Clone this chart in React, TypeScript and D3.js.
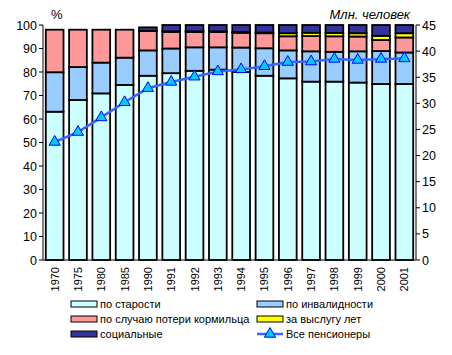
import React from "react";
import * as d3 from "d3";

const years = ["1970","1975","1980","1985","1990","1991","1992","1993","1994","1995","1996","1997","1998","1999","2000","2001"];
const oldAge =     [63.1, 68.1, 70.9, 74.5, 78.4, 79.5, 80.5, 81.0, 80.0, 78.4, 77.3, 75.9, 75.9, 75.5, 74.9, 74.9];
const disability = [16.8, 14.0, 13.1, 11.6, 10.8, 10.5, 10.0, 9.5, 10.4, 11.7, 11.9, 12.9, 12.7, 13.3, 14.0, 13.4];
const survivor =   [18.1, 15.9, 14.0, 11.9, 8.3, 7.0, 6.5, 6.5, 6.3, 6.4, 6.0, 6.5, 6.6, 6.3, 4.7, 6.4];
const service =    [0, 0, 0, 0, 0, 0.3, 0.3, 0.3, 0.3, 0.3, 1.3, 1.4, 1.4, 1.4, 1.8, 1.8];
const social =     [0, 0, 0, 0, 1.5, 2.7, 2.7, 2.7, 3.0, 3.2, 3.5, 3.3, 3.4, 3.5, 4.6, 3.5];
const allPensioners = [22.6, 24.5, 27.3, 30.2, 32.9, 34.1, 35.1, 36.1, 36.5, 37.1, 37.9, 38.0, 38.5, 38.3, 38.5, 38.6];

const seriesNames = ["по старости", "по инвалидности", "по случаю потери кормильца", "за выслугу лет", "социальные"];
const seriesColors = ["#CCFFFF", "#99CCFF", "#FF9999", "#FFFF00", "#333399"];
const lineName = "Все пенсионеры";
const leftTicks = [0, 10, 20, 30, 40, 50, 60, 70, 80, 90, 100];
const rightTicks = [0, 5, 10, 15, 20, 25, 30, 35, 40, 45];

const W = 452, H = 355;
const plot = { left: 43, right: 416, top: 25, bottom: 260 };
const font = "'Liberation Sans', Arial, sans-serif";

export default function App() {
  const x = d3.scaleBand().domain(years).range([plot.left, plot.right]).paddingInner(0.24).paddingOuter(0.12);
  const yL = d3.scaleLinear().domain([0, 100]).range([plot.bottom, plot.top]);
  const yR = d3.scaleLinear().domain([0, 45]).range([plot.bottom, plot.top]);
  const data = years.map((yr, i) => ({ yr, s0: oldAge[i], s1: disability[i], s2: survivor[i], s3: service[i], s4: social[i] }));
  const stack = d3.stack<any>().keys(["s0", "s1", "s2", "s3", "s4"])(data);
  const line = d3.line<number>().x((_, i) => (x(years[i]) as number) + x.bandwidth() / 2).y(d => yR(d));
  const tri = d3.symbol().type(d3.symbolTriangle).size(54);

  const legendItems = [
    { name: seriesNames[0], color: seriesColors[0], x: 71, y: 304 },
    { name: seriesNames[1], color: seriesColors[1], x: 257, y: 304 },
    { name: seriesNames[2], color: seriesColors[2], x: 71, y: 319 },
    { name: seriesNames[3], color: seriesColors[3], x: 257, y: 319 },
    { name: seriesNames[4], color: seriesColors[4], x: 71, y: 334 },
  ];

  return (
    <svg width={W} height={H} style={{ position: "absolute", left: 0, top: 0, background: "#fff" }} fontFamily={font}>
      {stack.map((layer, li) => (
        <g key={li}>
          {layer.map((d, i) => d[1] - d[0] > 0 ? (
            <rect key={i} x={x(years[i])} width={x.bandwidth()} y={yL(d[1])} height={yL(d[0]) - yL(d[1])}
              fill={seriesColors[li]} stroke="#000" strokeWidth={1.8} />
          ) : null)}
        </g>
      ))}
      {/* left axis */}
      <line x1={plot.left} x2={plot.left} y1={plot.top} y2={plot.bottom} stroke="#000" />
      {leftTicks.map(t => (
        <g key={t}>
          <line x1={plot.left - 4} x2={plot.left} y1={yL(t)} y2={yL(t)} stroke="#000" />
          <text x={plot.left - 6} y={yL(t)} dy="0.36em" textAnchor="end" fontSize={12.5}>{t}</text>
        </g>
      ))}
      {/* right axis */}
      <line x1={plot.right} x2={plot.right} y1={plot.top} y2={plot.bottom} stroke="#000" />
      {rightTicks.map(t => (
        <g key={t}>
          <line x1={plot.right} x2={plot.right + 4} y1={yR(t)} y2={yR(t)} stroke="#000" />
          <text x={plot.right + 6} y={yR(t)} dy="0.36em" textAnchor="start" fontSize={12.5}>{t}</text>
        </g>
      ))}
      {/* bottom axis */}
      <line x1={plot.left} x2={plot.right} y1={plot.bottom} y2={plot.bottom} stroke="#000" />
      {years.map(yr => {
        const cx = (x(yr) as number) + x.bandwidth() / 2;
        return (
          <text key={yr} transform={`translate(${cx + 4},${plot.bottom + 7}) rotate(-90)`} textAnchor="end" fontSize={11}>{yr}</text>
        );
      })}
      <text x={51} y={19} fontSize={13}>%</text>
      <text x={410} y={19} fontSize={13} fontStyle="italic" textAnchor="end">Млн. человек</text>
      {/* line */}
      <path d={line(allPensioners) || ""} fill="none" stroke="#3366FF" strokeWidth={2.5} />
      {allPensioners.map((v, i) => (
        <path key={i} d={tri() || ""} transform={`translate(${(x(years[i]) as number) + x.bandwidth() / 2},${yR(v)})`}
          fill="#00CCFF" stroke="#0000FF" strokeWidth={1} />
      ))}
      {/* legend */}
      {legendItems.map(it => (
        <g key={it.name}>
          <rect x={it.x} y={it.y - 3} width={26} height={6} fill={it.color} stroke="#000" strokeWidth={1} />
          <text x={it.x + 29} y={it.y} dy="0.35em" fontSize={11}>{it.name}</text>
        </g>
      ))}
      <g>
        <line x1={257} x2={283} y1={334} y2={334} stroke="#3366FF" strokeWidth={2.5} />
        <path d={tri() || ""} transform="translate(270,334)" fill="#00CCFF" stroke="#0000FF" strokeWidth={1} />
        <text x={286} y={334} dy="0.35em" fontSize={11}>{lineName}</text>
      </g>
    </svg>
  );
}
